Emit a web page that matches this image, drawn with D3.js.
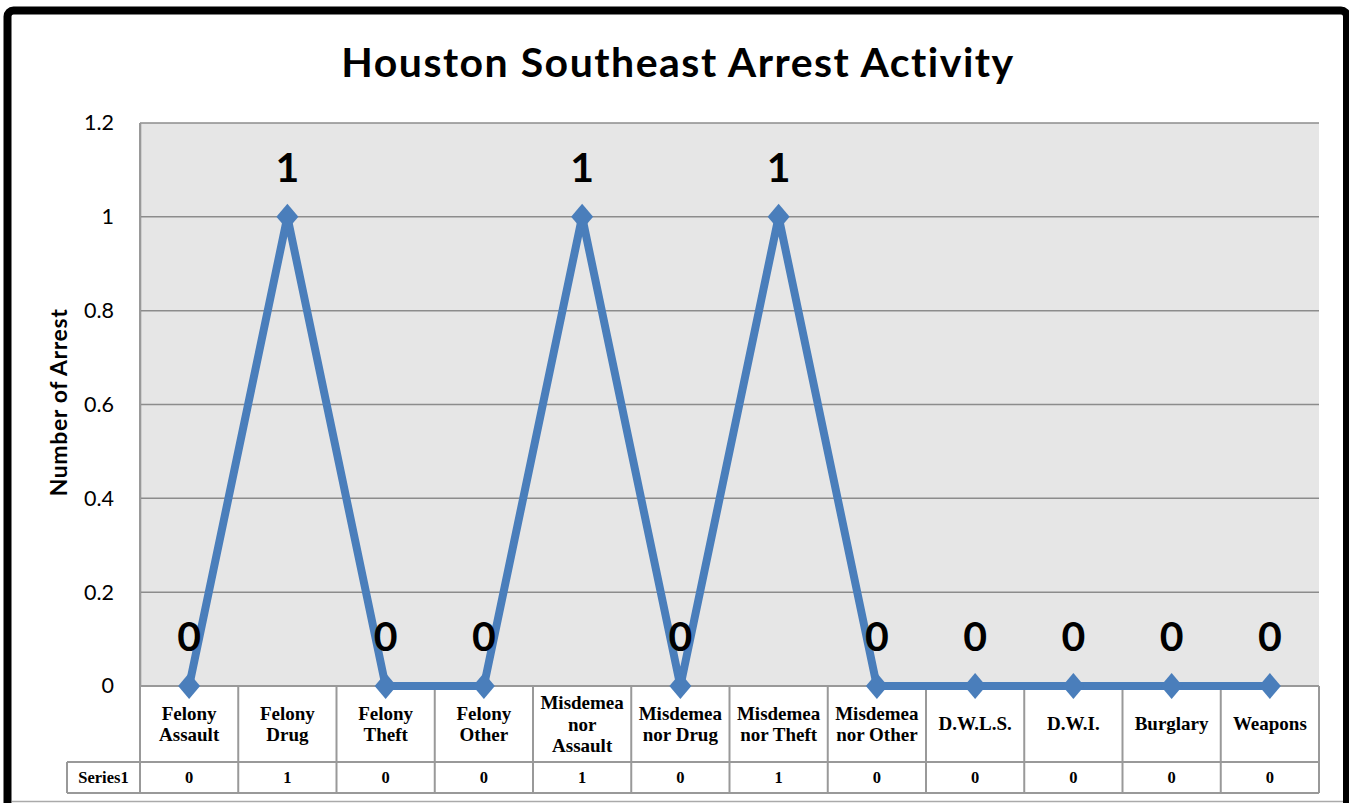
<!DOCTYPE html>
<html>
<head>
<meta charset="utf-8">
<script src="https://cdnjs.cloudflare.com/ajax/libs/d3/7.8.5/d3.min.js"></script>
<style>
    body { margin: 0; background: #fff; }
    svg { display: block; }
    .tick text { font-family: Lato, "Open Sans", sans-serif; }
</style>
</head>
<body>
<svg id="chart" width="1349" height="803"></svg>
<script>
    // data
    var categories = ["Felony Assault", "Felony Drug", "Felony Theft", "Felony Other",
        "Misdemeanor Assault", "Misdemeanor Drug", "Misdemeanor Theft", "Misdemeanor Other",
        "D.W.L.S.", "D.W.I.", "Burglary", "Weapons"];
    // how the labels wrap in the table cells
    var categoryLines = [["Felony", "Assault"], ["Felony", "Drug"], ["Felony", "Theft"], ["Felony", "Other"],
        ["Misdemea", "nor", "Assault"], ["Misdemea", "nor Drug"], ["Misdemea", "nor Theft"], ["Misdemea", "nor Other"],
        ["D.W.L.S."], ["D.W.I."], ["Burglary"], ["Weapons"]];
    var series1 = [0, 1, 0, 0, 1, 0, 1, 0, 0, 0, 0, 0];
    var yTicks = [0, 0.2, 0.4, 0.6, 0.8, 1, 1.2];

    var svg = d3.select("#chart");
    var plotL = 140, plotR = 1319, plotT = 123, plotB = 686;
    var rowCat = 762, rowSer = 793, headLeft = 67;

    var x = d3.scaleBand().domain(categories).range([plotL, plotR]);
    var y = d3.scaleLinear().domain([0, 1.2]).range([plotB, plotT]);

    // outer frame
    svg.append("rect")
        .attr("x", 7.5).attr("y", 10.5)
        .attr("width", 1339.5).attr("height", 830)
        .attr("rx", 6)
        .attr("fill", "#fff")
        .attr("stroke", "#000")
        .attr("stroke-width", 8);
    svg.append("line")
        .attr("x1", 12).attr("x2", 1343)
        .attr("y1", 801.5).attr("y2", 801.5)
        .attr("stroke", "#aaa").attr("stroke-width", 1.5);

    // plot background
    svg.append("rect")
        .attr("x", plotL).attr("y", plotT)
        .attr("width", plotR - plotL).attr("height", plotB - plotT)
        .attr("fill", "#e6e6e6");

    // gridlines
    svg.append("g")
        .selectAll("line")
        .data(yTicks.filter(function(d) { return d > 0; }))
        .enter().append("line")
        .attr("x1", plotL).attr("x2", plotR)
        .attr("y1", function(d) { return y(d); })
        .attr("y2", function(d) { return y(d); })
        .attr("stroke", "#8c8c8c")
        .attr("stroke-width", 1.5);

    // y axis
    var yAxis = svg.append("g")
        .attr("transform", "translate(" + plotL + ",0)")
        .call(d3.axisLeft(y).tickValues(yTicks).tickSize(0).tickPadding(26)
            .tickFormat(function(d) { return String(+d.toFixed(1)); }));
    yAxis.select(".domain").attr("stroke", "#8c8c8c").attr("stroke-width", 1.5);
    yAxis.selectAll("text").attr("font-size", 21.5).attr("fill", "#000");

    svg.append("text")
        .attr("transform", "translate(67," + ((plotT + plotB) / 2 - 2) + ") rotate(-90)")
        .attr("text-anchor", "middle")
        .attr("font-family", "Lato, 'Open Sans', sans-serif")
        .attr("font-weight", "bold")
        .attr("font-size", 23)
        .attr("letter-spacing", 0.6)
        .text("Number of Arrest");

    // title
    svg.append("text")
        .attr("x", 678).attr("y", 77)
        .attr("text-anchor", "middle")
        .attr("font-family", "Lato, 'Open Sans', sans-serif")
        .attr("font-weight", "bold")
        .attr("font-size", 41)
        .attr("letter-spacing", 1.5)
        .text("Houston Southeast Arrest Activity");

    // data table grid
    var grid = svg.append("g")
        .attr("stroke", "#999")
        .attr("stroke-width", 2)
        .attr("fill", "none");
    grid.append("line").attr("x1", plotL).attr("x2", plotR).attr("y1", plotB).attr("y2", plotB);
    grid.append("line").attr("x1", headLeft).attr("x2", plotR).attr("y1", rowCat).attr("y2", rowCat);
    grid.append("line").attr("x1", headLeft).attr("x2", plotR).attr("y1", rowSer).attr("y2", rowSer);
    grid.append("line").attr("x1", headLeft).attr("x2", headLeft).attr("y1", rowCat).attr("y2", rowSer);
    grid.selectAll(".col")
        .data(categories.map(function(c) { return x(c); }).concat([plotR]))
        .enter().append("line")
        .attr("x1", function(d) { return d; })
        .attr("x2", function(d) { return d; })
        .attr("y1", function(d) { return d === plotL ? plotT : plotB; })
        .attr("y2", rowSer);

    var serif = "'Palatino Linotype', 'Book Antiqua', 'Liberation Serif', serif";
    var catText = svg.append("g")
        .selectAll("text")
        .data(categories)
        .enter().append("text")
        .attr("text-anchor", "middle")
        .attr("font-family", serif)
        .attr("font-weight", "bold")
        .attr("font-size", 19)
        .attr("x", function(d) { return x(d) + x.bandwidth() / 2; })
        .attr("y", function(d, i) {
            var n = categoryLines[i].length;
            return (plotB + rowCat) / 2 + 6 - (n - 1) * 10.5;
        });
    catText.selectAll("tspan")
        .data(function(d, i) { return categoryLines[i]; })
        .enter().append("tspan")
        .attr("x", function() { return d3.select(this.parentNode).attr("x"); })
        .attr("dy", function(d, i) { return i === 0 ? 0 : 21.5; })
        .text(function(d) { return d; });

    svg.append("text")
        .attr("x", (headLeft + plotL) / 2)
        .attr("y", (rowCat + rowSer) / 2 + 5)
        .attr("text-anchor", "middle")
        .attr("font-family", serif)
        .attr("font-weight", "bold")
        .attr("font-size", 16.5)
        .text("Series1");

    svg.append("g")
        .selectAll("text")
        .data(series1)
        .enter().append("text")
        .attr("x", function(d, i) { return x(categories[i]) + x.bandwidth() / 2; })
        .attr("y", (rowCat + rowSer) / 2 + 5)
        .attr("text-anchor", "middle")
        .attr("font-family", serif)
        .attr("font-weight", "bold")
        .attr("font-size", 16.5)
        .text(function(d) { return d; });

    // series line
    var line = d3.line()
        .x(function(d, i) { return x(categories[i]) + x.bandwidth() / 2; })
        .y(function(d) { return y(d); });

    svg.append("path")
        .datum(series1)
        .attr("d", line)
        .attr("fill", "none")
        .attr("stroke", "#4a7ebb")
        .attr("stroke-width", 8)
        .attr("stroke-linejoin", "miter");

    svg.append("g")
        .selectAll("path")
        .data(series1)
        .enter().append("path")
        .attr("transform", function(d, i) {
            return "translate(" + (x(categories[i]) + x.bandwidth() / 2) + "," + y(d) + ")";
        })
        .attr("d", "M0,-13L11,0L0,13L-11,0Z")
        .attr("fill", "#4a7ebb");

    // data labels
    svg.append("g")
        .selectAll("text")
        .data(series1)
        .enter().append("text")
        .attr("x", function(d, i) { return x(categories[i]) + x.bandwidth() / 2; })
        .attr("y", function(d) { return y(d) - 35; })
        .attr("text-anchor", "middle")
        .attr("font-family", "Lato, 'Open Sans', sans-serif")
        .attr("font-weight", "bold")
        .attr("font-size", 41)
        .text(function(d) { return d; });
</script>
</body>
</html>
